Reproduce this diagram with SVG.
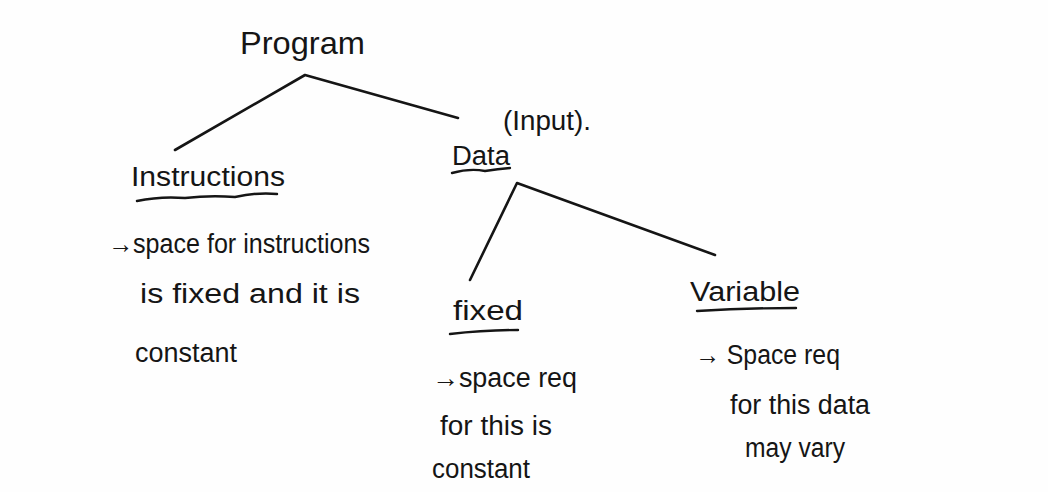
<svg xmlns="http://www.w3.org/2000/svg" width="1048" height="492" viewBox="0 0 1048 492">
<style>
.t{font-family:"Liberation Sans","DejaVu Sans",sans-serif;fill:#151515;font-size:27px}
.big{font-size:32px}
.ln{stroke:#151515;stroke-width:2.6;fill:none;stroke-linecap:round;stroke-linejoin:round}
.ul{stroke:#151515;stroke-width:2.4;fill:none;stroke-linecap:round}
</style>
<rect width="1048" height="492" fill="#fefefe"/>
<g id="connectors">
<path class="ln" d="M175,150 L305,75 L458,118"/>
<path class="ln" d="M470,280 L517,183 L715,255"/>
</g>
<g id="program">
<text class="t big" x="240" y="54" textLength="125" lengthAdjust="spacingAndGlyphs">Program</text>
</g>
<g id="instructions">
<text class="t" x="131" y="186" textLength="154" lengthAdjust="spacingAndGlyphs">Instructions</text>
<path class="ul" d="M137,201 Q160,196 185,198 Q210,195 235,197 Q258,192 277,194"/>
<text class="t" x="108" y="253" textLength="262" lengthAdjust="spacingAndGlyphs">→space for instructions</text>
<text class="t" x="140" y="303" textLength="220" lengthAdjust="spacingAndGlyphs">is fixed and it is</text>
<text class="t" x="135" y="362" textLength="102" lengthAdjust="spacingAndGlyphs">constant</text>
</g>
<g id="data">
<text class="t" x="452" y="165" textLength="58" lengthAdjust="spacingAndGlyphs">Data</text>
<path class="ul" d="M452,173 Q470,168 485,171 Q498,169 510,168"/>
<text class="t" x="503" y="130" textLength="88" lengthAdjust="spacingAndGlyphs">(Input).</text>
</g>
<g id="fixed">
<text class="t" x="453" y="320" textLength="70" lengthAdjust="spacingAndGlyphs">fixed</text>
<path class="ul" d="M450,334 Q485,330 518,330"/>
<text class="t" x="432" y="387" textLength="145" lengthAdjust="spacingAndGlyphs">→space req</text>
<text class="t" x="440" y="435" textLength="112" lengthAdjust="spacingAndGlyphs">for this is</text>
<text class="t" x="432" y="478" textLength="98" lengthAdjust="spacingAndGlyphs">constant</text>
</g>
<g id="variable">
<text class="t" x="690" y="301" textLength="110" lengthAdjust="spacingAndGlyphs">Variable</text>
<path class="ul" d="M697,311 Q745,308 796,308"/>
<text class="t" x="695" y="364" textLength="145" lengthAdjust="spacingAndGlyphs">→ Space req</text>
<text class="t" x="730" y="414" textLength="140" lengthAdjust="spacingAndGlyphs">for this data</text>
<text class="t" x="745" y="457" textLength="100" lengthAdjust="spacingAndGlyphs">may vary</text>
</g>
</svg>
